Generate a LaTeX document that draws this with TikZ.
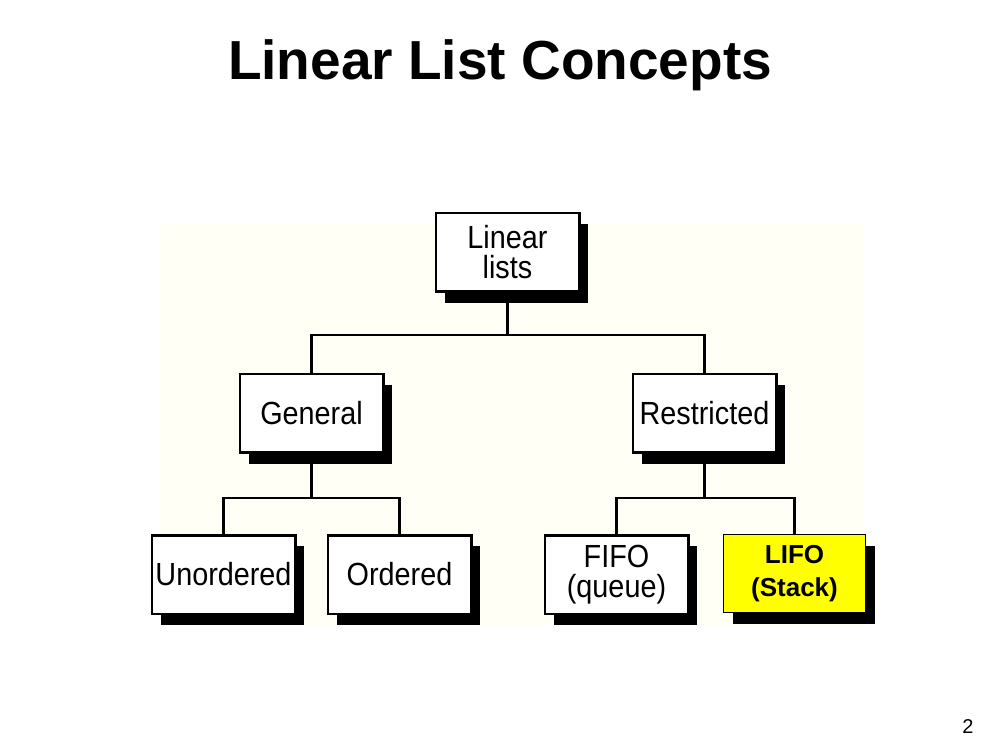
\documentclass[tikz,border=0pt]{standalone}
\usepackage{fontspec}
\setmainfont{Liberation Sans}
\newfontfamily\boxfont[FakeStretch=0.9]{Liberation Sans}
\usetikzlibrary{positioning,shadows}
\definecolor{paper}{RGB}{255,255,246}
\definecolor{stackyellow}{RGB}{255,255,0}

\begin{document}
\begin{tikzpicture}[
      x=1pt, y=1pt,
      every text node part/.style={align=center},
      concept/.style={
        rectangle,
        draw,
        fill=white,
        line width=2.5pt,
        minimum width=143.5pt,
        minimum height=78.5pt,
        inner sep=0pt,
        font=\boxfont\fontsize{32}{30}\selectfont,
        drop shadow={shadow xshift=9pt, shadow yshift=-11pt,
          fill=black, opacity=1}
      },
      hilite/.style={
        fill=stackyellow,
        line width=1pt,
        minimum width=142pt,
        minimum height=78pt,
        font=\bfseries\fontsize{26}{33}\selectfont
      },
      link/.style={line width=2.5pt},
      node distance=80pt
    ]
    \useasboundingbox (0,0) rectangle (1000,750);
    \fill[paper] (160,124) rectangle (863,527);

    \node[font=\bfseries\fontsize{55}{55}\selectfont, anchor=base]
      (title) at (500,670) {Linear List Concepts};

    \node[concept]
      (lists) at (507.5,497.5)
      {Linear\\lists};

    \node[concept, below=of lists, xshift=-196pt]
      (general)
      {General};

    \node[concept, below=of lists, xshift=197pt]
      (restricted)
      {Restricted};

    \node[concept, below=of general, xshift=-88pt]
      (unordered)
      {Unordered};

    \node[concept, below=of general, xshift=88pt]
      (ordered)
      {Ordered};

    \node[concept, below=of restricted, xshift=-88pt]
      (fifo)
      {FIFO\\(queue)};

    \node[concept, hilite, below=of restricted, xshift=90pt]
      (lifo)
      {LIFO\\(Stack)};

    % connectors
    \draw[link] (lists.south) -- ++(0,-42) -| (general.north);
    \draw[link] (lists.south) -- ++(0,-42) -| (restricted.north);
    \draw[link] (general.south) -- ++(0,-44) -| (unordered.north);
    \draw[link] (general.south) -- ++(0,-44) -| (ordered.north);
    \draw[link] (restricted.south) -- ++(0,-44) -| (fifo.north);
    \draw[link] (restricted.south) -- ++(0,-44) -| (lifo.north);

    \node[font=\fontsize{20}{20}\selectfont, anchor=base]
      (page) at (968,17) {2};
  \end{tikzpicture}
\end{document}
